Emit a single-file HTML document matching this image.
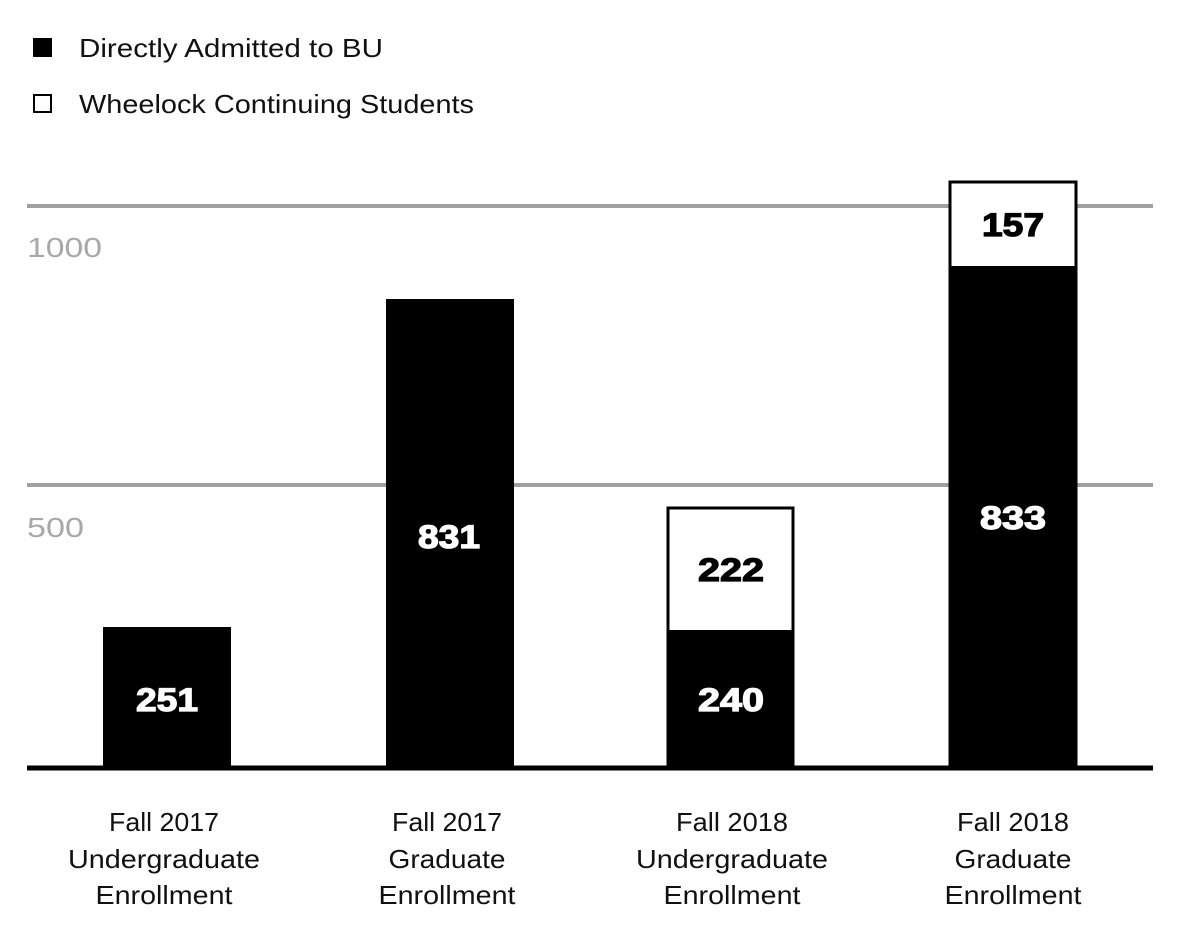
<!DOCTYPE html>
<html><head><meta charset="utf-8"><style>
html,body{margin:0;padding:0;background:#fff;}
body{width:1200px;height:944px;overflow:hidden;}
svg text{font-family:"Liberation Sans",sans-serif;}
</style></head><body>
<svg width="1200" height="944" viewBox="0 0 1200 944" xmlns="http://www.w3.org/2000/svg">
<rect x="33" y="38" width="19" height="19" fill="#000"/>
<text x="79" y="57" font-size="26" fill="#111" textLength="304" lengthAdjust="spacingAndGlyphs">Directly Admitted to BU</text>
<rect x="34" y="95" width="17" height="17" fill="#fff" stroke="#000" stroke-width="2"/>
<text x="79" y="113" font-size="26" fill="#111" textLength="395" lengthAdjust="spacingAndGlyphs">Wheelock Continuing Students</text>

<line x1="27" y1="206" x2="1153" y2="206" stroke="#a0a0a0" stroke-width="4"/>
<line x1="27" y1="485" x2="1153" y2="485" stroke="#a0a0a0" stroke-width="4"/>
<text x="27" y="257" font-size="28" fill="#a8a8a8" textLength="75" lengthAdjust="spacingAndGlyphs">1000</text>
<text x="27" y="537" font-size="28" fill="#a8a8a8" textLength="57" lengthAdjust="spacingAndGlyphs">500</text>

<rect x="103" y="627" width="128" height="141" fill="#000"/>
<rect x="386" y="299" width="128" height="469" fill="#000"/>
<rect x="668" y="508" width="125" height="260" fill="#fff" stroke="#000" stroke-width="3"/>
<rect x="667" y="630" width="127" height="138" fill="#000"/>
<rect x="950" y="182" width="126" height="586" fill="#fff" stroke="#000" stroke-width="3"/>
<rect x="949" y="266" width="128" height="502" fill="#000"/>

<line x1="27" y1="768" x2="1153" y2="768" stroke="#000" stroke-width="5"/>

<g font-size="32" font-weight="bold" text-anchor="middle" stroke-width="1.2">
<text x="167" y="711" fill="#fff" stroke="#fff" textLength="62" lengthAdjust="spacingAndGlyphs">251</text>
<text x="449" y="548" fill="#fff" stroke="#fff" textLength="62" lengthAdjust="spacingAndGlyphs">831</text>
<text x="731" y="581" fill="#000" stroke="#000" textLength="66" lengthAdjust="spacingAndGlyphs">222</text>
<text x="731" y="711" fill="#fff" stroke="#fff" textLength="66" lengthAdjust="spacingAndGlyphs">240</text>
<text x="1013" y="236" fill="#000" stroke="#000" textLength="62" lengthAdjust="spacingAndGlyphs">157</text>
<text x="1013" y="529" fill="#fff" stroke="#fff" textLength="66" lengthAdjust="spacingAndGlyphs">833</text>
</g>

<g font-size="26" fill="#111" text-anchor="middle">
<text x="164" y="831" textLength="110" lengthAdjust="spacingAndGlyphs">Fall 2017</text><text x="164" y="868" textLength="192" lengthAdjust="spacingAndGlyphs">Undergraduate</text><text x="164" y="904" textLength="137" lengthAdjust="spacingAndGlyphs">Enrollment</text>
<text x="447" y="831" textLength="110" lengthAdjust="spacingAndGlyphs">Fall 2017</text><text x="447" y="868" textLength="117" lengthAdjust="spacingAndGlyphs">Graduate</text><text x="447" y="904" textLength="137" lengthAdjust="spacingAndGlyphs">Enrollment</text>
<text x="732" y="831" textLength="112" lengthAdjust="spacingAndGlyphs">Fall 2018</text><text x="732" y="868" textLength="192" lengthAdjust="spacingAndGlyphs">Undergraduate</text><text x="732" y="904" textLength="137" lengthAdjust="spacingAndGlyphs">Enrollment</text>
<text x="1013" y="831" textLength="112" lengthAdjust="spacingAndGlyphs">Fall 2018</text><text x="1013" y="868" textLength="117" lengthAdjust="spacingAndGlyphs">Graduate</text><text x="1013" y="904" textLength="137" lengthAdjust="spacingAndGlyphs">Enrollment</text>
</g>
</svg>
</body></html>
